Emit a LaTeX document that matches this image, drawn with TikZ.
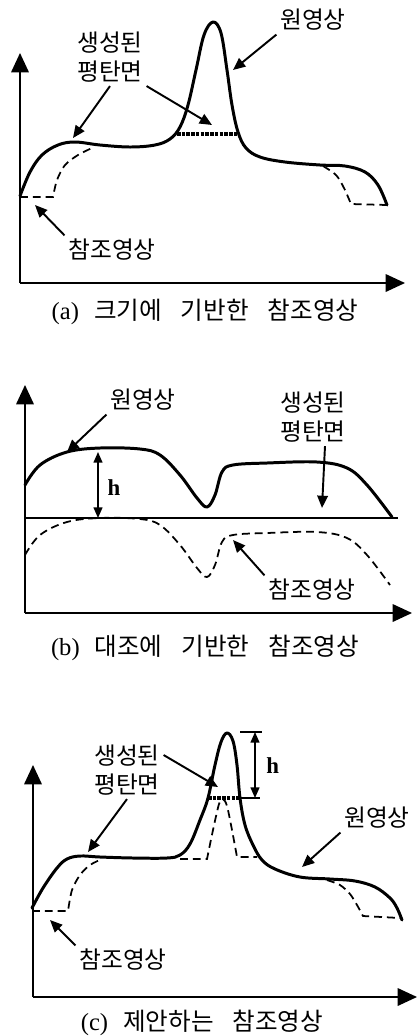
\documentclass[tikz,border=0pt]{standalone}
\usepackage{fontspec}
\setmainfont{Liberation Serif}
\newfontfamily\kr{Noto Sans CJK KR}
\usepackage{tikz}
\usetikzlibrary{positioning,arrows.meta}

\begin{document}
\begin{tikzpicture}[x=0.02cm, y=-0.02cm,
    asse/.style={line width=0.9pt, -{Triangle[length=11pt, width=10pt]}},
    orig/.style={line width=1.7pt, line join=round, line cap=round},
    rif/.style={line width=1pt, dash pattern=on 4.5pt off 2.8pt},
    piano/.style={line width=1.8pt, dash pattern=on 2pt off 0.7pt},
    freccia/.style={line width=1.1pt, -{Triangle[length=7pt, width=6pt]}},
    hfr/.style={line width=0.9pt, {Triangle[length=6pt, width=5pt]}-{Triangle[length=6pt, width=5pt]}},
    etich/.style={font=\kr\fontsize{13.5}{16.5}\selectfont, inner sep=2pt, align=center},
    didasc/.style={font=\fontsize{14}{16}\selectfont, inner sep=1pt}]

    \useasboundingbox (0,0) rectangle (418,1036);

    % (a) riferimento basato sulla dimensione
    \coordinate (oa) at (20,283);
    \coordinate (ya) at (20,53);
    \coordinate (xa) at (405,283);
    \draw[asse] (oa) -- (ya);
    \draw[asse] (oa) -- (xa);

    \draw[rif] (20,197) -- plot[smooth] coordinates {(53,197) (57,180) (65,165) (78,155) (92,148)};
    \draw[rif] plot[smooth] coordinates {(323,166) (336,175) (344,188) (351,204)} -- (387,205);
    \draw[orig] plot[smooth, tension=0.6] coordinates {(20,196) (30,172) (42,155) (58,145) (75,142)
        (100,145) (130,147) (155,145) (170,139) (180,127) (188,105) (196,70) (204,35) (213,22)
        (221,33) (227,70) (232,105) (238,132) (246,148) (260,157) (285,162) (320,165) (345,166)
        (365,172) (378,185) (387,205)};
    \draw[piano] (177,134) -- (237,134);

    \coordinate (pa1) at (73,138);
    \coordinate (pa2) at (212,125);
    \coordinate (pa3) at (233,70);
    \coordinate (pa4) at (35,205);
    \node[etich] (genA) at (110,57) {생성된\\평탄면};
    \node[etich] (orA) at (313,20) {원영상};
    \node[etich] (rifA) at (112,250) {참조영상};
    \draw[freccia] (genA.south) -- (pa1);
    \draw[freccia] (genA.south east) -- (pa2);
    \draw[freccia] (orA.south west) -- (pa3);
    \draw[freccia] (rifA.north west) -- (pa4);
    \node[didasc] (capA) at (205,312) {(a)\hspace{0.3cm}{\kr 크기에\hspace{0.38cm}기반한\hspace{0.38cm}참조영상}};

    % (b) riferimento basato sul contrasto
    \coordinate (ob) at (25,613);
    \coordinate (yb) at (25,385);
    \coordinate (xb) at (412,613);
    \draw[asse] (ob) -- (yb);
    \draw[asse] (ob) -- (xb);
    \draw[line width=1.4pt] (25,518) -- (398,518);

    \draw[orig] plot[smooth, tension=0.6] coordinates {(25,485) (40,465) (67,452) (100,448) (140,449)
        (160,455) (180,475) (197,498) (207,507) (215,495) (222,472) (233,465) (267,463) (317,462)
        (347,468) (367,485) (392,517)};
    \begin{scope}[shift={(0,70)}]
        \draw[rif] plot[smooth, tension=0.6] coordinates {(25,485) (40,465) (67,452) (100,448) (140,449)
            (160,455) (180,475) (197,498) (207,507) (215,495) (222,472) (233,465) (267,463) (317,462)
            (347,468) (367,485) (390,515)};
    \end{scope}

    \coordinate (hb1) at (98,452);
    \coordinate (hb2) at (98,518);
    \draw[hfr] (hb1) -- (hb2);
    \node[font=\fontsize{13}{15}\selectfont\bfseries, right=2pt of hb1, yshift=-20pt] (hB) {h};

    \coordinate (pb1) at (67,452);
    \coordinate (pb2) at (322,508);
    \coordinate (pb3) at (233,540);
    \node[etich] (orB) at (143,400) {원영상};
    \node[etich] (genB) at (313,417) {생성된\\평탄면};
    \node[etich] (rifB) at (312,590) {참조영상};
    \draw[freccia] (orB.south west) -- (pb1);
    \draw[freccia] (genB.south) ++(12,0) -- (pb2);
    \draw[freccia] (rifB.north west) -- (pb3);
    \node[didasc] (capB) at (205,648) {(b)\hspace{0.3cm}{\kr 대조에\hspace{0.38cm}기반한\hspace{0.38cm}참조영상}};

    % (c) riferimento proposto
    \coordinate (oc) at (33,997);
    \coordinate (yc) at (33,765);
    \coordinate (xc) at (417,997);
    \draw[asse] (oc) -- (yc);
    \draw[asse] (oc) -- (xc);

    \draw[rif] (32,911) -- plot[smooth] coordinates {(68,911) (72,890) (80,875) (90,865) (102,859)};
    \draw[rif] (180,859) -- plot[smooth, tension=0.5] coordinates {(207,859) (213,830) (219,804) (223,799) (227,806) (232,830) (237,857)} -- (257,857);
    \draw[rif] plot[smooth] coordinates {(327,880) (340,885) (350,894) (357,905) (363,916)} -- (400,918);
    \draw[orig] plot[smooth, tension=0.6] coordinates {(32,908) (43,888) (57,868) (67,859) (80,856)
        (100,857) (133,858) (167,858) (180,855) (190,844) (200,820) (208,798) (215,765) (221,742)
        (227,733) (233,741) (237,765) (240,798) (245,825) (253,845) (262,860) (275,869) (300,877)
        (330,879) (355,881) (375,887) (390,898) (397,908) (402,920)};
    \draw[piano] (208,798) -- (240,798);

    \coordinate (hc1) at (255,732);
    \coordinate (hc2) at (255,798);
    \draw[line width=0.8pt] (240,732) -- (262,732);
    \draw[line width=0.8pt] (240,798) -- (260,798);
    \draw[hfr] (hc1) -- (hc2);
    \node[font=\fontsize{13}{15}\selectfont\bfseries, right=3pt of hc1, yshift=-19pt] (hC) {h};

    \coordinate (pc1) at (218,787);
    \coordinate (pc2) at (88,852);
    \coordinate (pc3) at (302,867);
    \coordinate (pc4) at (50,920);
    \node[etich] (genC) at (127,770) {생성된\\평탄면};
    \node[etich] (orC) at (377,818) {원영상};
    \node[etich] (rifC) at (123,960) {참조영상};
    \draw[freccia] (genC.east) ++(0,-15) -- (pc1);
    \draw[freccia] (genC.south) -- (pc2);
    \draw[freccia] (orC.south west) -- (pc3);
    \draw[freccia] (rifC.north west) -- (pc4);
    \node[didasc] (capC) at (202,1023) {(c)\hspace{0.3cm}{\kr 제안하는\hspace{0.38cm}참조영상}};

\end{tikzpicture}
\end{document}
